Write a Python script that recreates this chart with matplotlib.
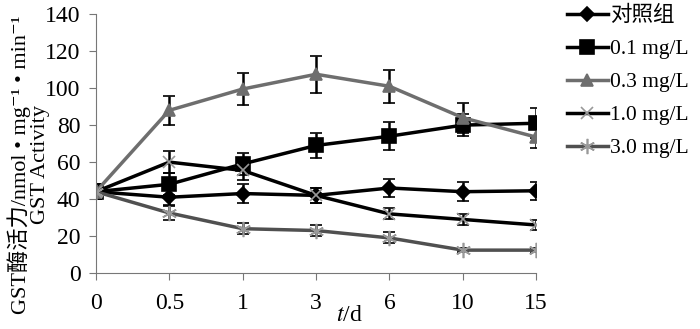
import matplotlib
matplotlib.use("Agg")
import matplotlib.pyplot as plt
from matplotlib.lines import Line2D
import numpy as np

plt.rcParams['font.family'] = ['Liberation Serif', 'Noto Sans CJK SC', 'DejaVu Serif']
plt.rcParams['mathtext.fontset'] = 'stix'

days = ['0', '0.5', '1', '3', '6', '10', '15']
series_names = ['对照组', '0.1 mg/L', '0.3 mg/L', '1.0 mg/L', '3.0 mg/L']

control = [44, 41, 43, 42, 46, 44, 44.5]
control_err = [4, 4, 5, 4, 5, 5, 5]
c01 = [44, 48, 59, 69, 74, 80, 81]
c01_err = [4, 6, 6, 7, 7.5, 6, 8]
c03 = [44, 88, 99.5, 107.5, 101, 84, 73.5]
c03_err = [4, 8, 8.5, 10, 9, 8, 6]
c10 = [44, 60, 55.5, 42, 32, 29, 26]
c10_err = [4, 6, 5, 4, 3, 3, 2.5]
c30 = [44, 32.5, 24, 23, 19, 12.4, 12.4]
c30_err = [4, 4, 3, 3, 3, 1, 1]

values = [control, c01, c03, c10, c30]
errors = [control_err, c01_err, c03_err, c10_err, c30_err]
colors = ['black', 'black', '#6e6e6e', 'black', '#505050']
markers = ['D', 's', '^', 'x', (6, 2, 0)]
msizes = [7, 10, 9, 9, 11]

fig = plt.figure(figsize=(7, 3.29), dpi=100)
ax = fig.add_axes([0.137, 0.170, 0.629, 0.787])

x = np.arange(len(days))
handles = []
for name, v, e, col, m, ms in zip(series_names, values, errors, colors, markers, msizes):
    mec = col if m in ('D', 's', '^') else '#999999'
    ax.errorbar(x, v, yerr=e, color=col, ecolor='black', elinewidth=1.8,
                capsize=4, capthick=1.8, linewidth=2.5, marker=m, markersize=ms,
                markeredgecolor=mec, markeredgewidth=1.2)
    handles.append(Line2D([], [], color=col, linewidth=2.5, marker=m, markersize=ms,
                          markeredgecolor=mec, markeredgewidth=1.2, label=name))

ax.set_xlim(0, 6)
ax.set_ylim(0, 140)
ax.set_yticks(range(0, 141, 20))
ax.set_xticks(x)
ax.set_xticklabels(days)
for s in ['top', 'right']:
    ax.spines[s].set_visible(False)
for s in ['left', 'bottom']:
    ax.spines[s].set_color('#777777')
ax.tick_params(axis='both', labelsize=17, length=5, color='#777777', pad=6)
ax.tick_params(axis='x', pad=9)
ax.set_xlabel('$t$/d', fontsize=17)
ax.xaxis.set_label_coords(0.575, -0.125)

fig.text(0.027, 0.5, 'GST酶活力/nmol • mg⁻¹ • min⁻¹', rotation=90,
         va='center', ha='center', fontsize=16)
fig.text(0.058, 0.5, 'GST Activity', rotation=90,
         va='center', ha='center', fontsize=16)

ax.legend(handles=handles, loc='upper left', bbox_to_anchor=(1.05, 1.065), frameon=False,
          fontsize=15.5, handlelength=1.9, handletextpad=0.1,
          labelspacing=0.6, borderaxespad=0)

fig.savefig('out.png', dpi=100)
